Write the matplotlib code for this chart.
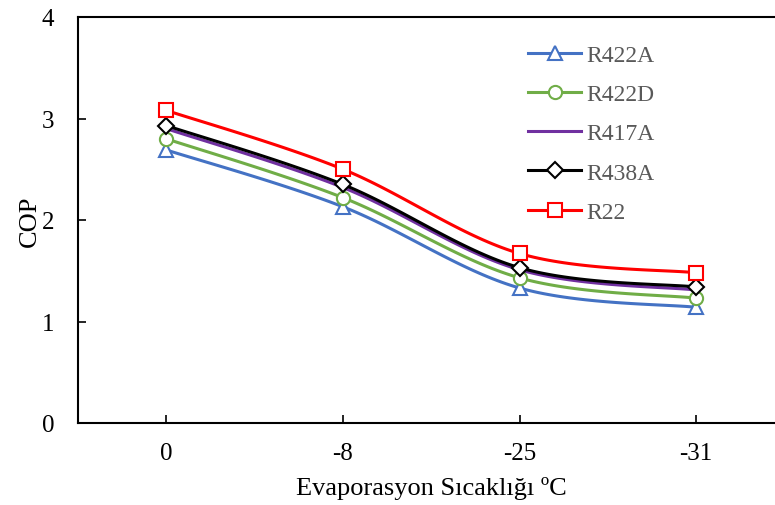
import numpy as np
import matplotlib
matplotlib.use("Agg")
import matplotlib.pyplot as plt
from matplotlib.lines import Line2D

plt.rcParams['font.family'] = ['Liberation Serif', 'DejaVu Serif']

categories = ["0", "-8", "-25", "-31"]
r422a = [2.69, 2.13, 1.33, 1.14]
r422d = [2.80, 2.22, 1.43, 1.23]
r417a = [2.90, 2.32, 1.51, 1.31]
r438a = [2.93, 2.35, 1.53, 1.34]
r22 = [3.08, 2.50, 1.67, 1.48]

series = [
    ("R422A", r422a, "#4472C4", "^"),
    ("R422D", r422d, "#70AD47", "o"),
    ("R417A", r417a, "#7030A0", None),
    ("R438A", r438a, "#000000", "D"),
    ("R22", r22, "#FF0000", "s"),
]


def smooth(xs, ys, n=40):
    """Catmull-Rom style Bezier smoothing through the given points."""
    p = np.column_stack([xs, ys]).astype(float)
    ext = np.vstack([p[0], p, p[-1]])
    out = []
    t = np.linspace(0, 1, n)[:, None]
    for i in range(len(p) - 1):
        p0, p1, p2, p3 = ext[i], ext[i + 1], ext[i + 2], ext[i + 3]
        c1 = p1 + (p2 - p0) / 6.0
        c2 = p2 - (p3 - p1) / 6.0
        seg = ((1 - t) ** 3) * p1 + 3 * ((1 - t) ** 2) * t * c1 \
            + 3 * (1 - t) * t ** 2 * c2 + t ** 3 * p2
        out.append(seg if i == 0 else seg[1:])
    seg = np.vstack(out)
    return seg[:, 0], seg[:, 1]


fig = plt.figure(figsize=(7.75, 5.06), dpi=100)
ax = fig.add_axes([78 / 775, 82 / 506, 706.5 / 775, 406 / 506])

x = np.arange(len(categories))
handles = []
for name, vals, color, mk in series:
    sx, sy = smooth(x, vals)
    ax.plot(sx, sy, color=color, lw=2.2, solid_capstyle='round', zorder=2)
    if mk is not None:
        ax.plot(x, vals, linestyle='none', marker=mk, ms=9.5 if mk != "D" else 8,
                mfc='white', mec=color, mew=1.5, zorder=3)
    handles.append(Line2D([], [], color=color, lw=2.2, marker=mk,
                          ms=9.5 if mk != "D" else 8, mfc='white', mec=color, mew=1.5))

ax.set_xlim(-0.5, 3.5)
ax.set_ylim(0, 4)
ax.set_xticks(x)
ax.set_xticklabels(categories)
ax.set_yticks([0, 1, 2, 3, 4])
ax.tick_params(direction='in', length=6, width=1.2, labelsize=18, colors='black')
ax.tick_params(axis='x', pad=14)
ax.tick_params(axis='y', pad=17)
for s in ax.spines.values():
    s.set_linewidth(1.5)

ax.set_ylabel("COP", fontsize=19, labelpad=1)
ax.set_xlabel("Evaporasyon Sıcaklığı ºC", fontsize=19, labelpad=8)

leg = ax.legend(handles, [s[0] for s in series], loc='upper left',
                bbox_to_anchor=(0.607, 0.985), frameon=False, fontsize=17,
                handlelength=2.25, handletextpad=0.2, labelspacing=0.75,
                labelcolor='#595959')

fig.savefig("out.png", dpi=100)
